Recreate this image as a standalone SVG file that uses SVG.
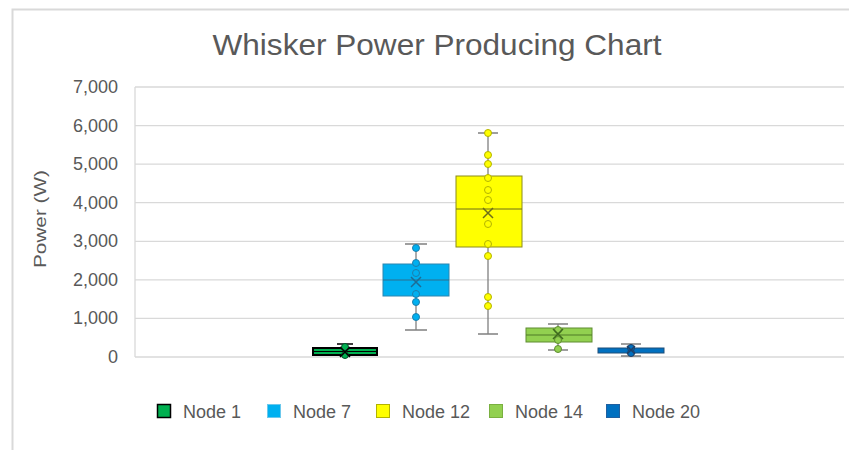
<svg xmlns="http://www.w3.org/2000/svg" width="849" height="450" viewBox="0 0 849 450">
<style>
.t{font-family:"Liberation Sans",Arial,sans-serif;fill:#595959}
.tick{font-size:18px;text-anchor:end}
.leg{font-size:18px}
.grid{stroke:#D9D9D9;stroke-width:1.3;fill:none}
.wh{stroke:#808080;stroke-width:1.3;fill:none}
</style>
<rect x="0" y="0" width="849" height="450" fill="#fff"/>
<path d="M12.5 450V9.5H849" fill="none" stroke="#D9D9D9" stroke-width="2"/>
<text class="t" x="437" y="55" font-size="30" text-anchor="middle" textLength="449" lengthAdjust="spacingAndGlyphs">Whisker Power Producing Chart</text>
<g id="axes">
<path class="grid" d="M135 87H844M135 125.6H844M135 164.1H844M135 202.7H844M135 241.3H844M135 279.9H844M135 318.4H844M135 357H844M135 87V357"/>
<g class="t tick">
<text x="118" y="93">7,000</text>
<text x="118" y="132">6,000</text>
<text x="118" y="170">5,000</text>
<text x="118" y="209">4,000</text>
<text x="118" y="247">3,000</text>
<text x="118" y="286">2,000</text>
<text x="118" y="324">1,000</text>
<text x="118" y="363">0</text>
</g>
<text class="t" font-size="17" transform="translate(46 219) rotate(-90)" text-anchor="middle" textLength="98" lengthAdjust="spacingAndGlyphs">Power (W)</text>
</g>
<g id="connectors"></g>
<g id="node1">
<path d="M345 344V357M337 344H353" stroke="#000" stroke-width="1.5"/>
<rect x="313" y="348" width="64" height="7" fill="#00B050" stroke="#000" stroke-width="2"/>
<path d="M313 351.5H377" stroke="#000" stroke-width="1"/>
<g fill="#00B050" stroke="#00502A" stroke-width="1"><circle cx="345" cy="347" r="3.5"/><circle cx="345" cy="355" r="3.5"/></g>
<path d="M340 347L350 357M350 347L340 357" stroke="#000" stroke-width="1.5"/>
</g>
<g id="node7">
<path class="wh" d="M416 244V264M416 296V330M405 244H427M405 330H427"/>
<rect x="383" y="264" width="66" height="32" fill="#00B0F0" stroke="#2C86B0" stroke-width="1"/>
<path d="M383 280H449" stroke="#2C6E8E" stroke-width="1"/>
<g fill="#00B0F0" stroke="#1D7FAD" stroke-width="1"><circle cx="416" cy="248" r="3.5"/><circle cx="416" cy="263" r="3.5"/><circle cx="416" cy="273" r="3.5"/><circle cx="416" cy="294" r="3.5"/><circle cx="416" cy="302" r="3.5"/><circle cx="416" cy="317" r="3.5"/></g>
<path d="M411 277L421 287M421 277L411 287" stroke="#1D6C94" stroke-width="1.5"/>
</g>
<g id="node12">
<path class="wh" d="M488 133V176M488 247V334M478 133H498M478 334H498"/>
<rect x="456" y="176" width="66" height="71" fill="#FFFF00" stroke="#8C8C1A" stroke-width="1"/>
<path d="M456 209H522" stroke="#6E6E1A" stroke-width="1"/>
<g fill="#FFFF00" stroke="#B3B300" stroke-width="1"><circle cx="488" cy="133" r="3.5"/><circle cx="488" cy="155" r="3.5"/><circle cx="488" cy="164" r="3.5"/><circle cx="488" cy="178" r="3.5"/><circle cx="488" cy="190" r="3.5"/><circle cx="488" cy="200" r="3.5"/><circle cx="488" cy="224" r="3.5"/><circle cx="488" cy="244" r="3.5"/><circle cx="488" cy="256" r="3.5"/><circle cx="488" cy="297" r="3.5"/><circle cx="488" cy="306" r="3.5"/></g>
<path d="M483 208L493 218M493 208L483 218" stroke="#6E6E1A" stroke-width="1.5"/>
</g>
<g id="node14">
<path class="wh" d="M558 324V328M558 342V350M548 324H568M548 350H568"/>
<rect x="526" y="328" width="66" height="14" fill="#92D050" stroke="#5E8C30" stroke-width="1"/>
<path d="M526 335H592" stroke="#4E7A26" stroke-width="1"/>
<g fill="#92D050" stroke="#5E8C30" stroke-width="1"><circle cx="558" cy="330" r="3.5"/><circle cx="558" cy="340" r="3.5"/><circle cx="558" cy="349" r="3.5"/></g>
<path d="M553 329L563 339M563 329L553 339" stroke="#3E6A1E" stroke-width="1.5"/>
</g>
<g id="node20">
<path d="M631 344V356M621 344H641M621 356H641" stroke="#404040" stroke-width="1.2"/>
<rect x="598" y="348" width="66" height="5" fill="#0070C0" stroke="#1F4E79" stroke-width="1"/>
<g fill="#0070C0" stroke="#1F3F66" stroke-width="1"><circle cx="631" cy="348" r="3.5"/><circle cx="631" cy="353" r="3.5"/></g>
<path d="M627 346L635 354M635 346L627 354" stroke="#1F3F66" stroke-width="1.5"/>
</g>
<g id="legend">
<rect x="157.5" y="404.5" width="13" height="13" fill="#00B050" stroke="#000" stroke-width="1.5"/>
<text class="t leg" x="183" y="418">Node 1</text>
<rect x="267.5" y="404.5" width="13" height="13" fill="#00B0F0" stroke="#6CC8EC" stroke-width="1"/>
<text class="t leg" x="293" y="418">Node 7</text>
<rect x="376.5" y="404.5" width="13" height="13" fill="#FFFF00" stroke="#B3B300" stroke-width="1"/>
<text class="t leg" x="402" y="418">Node 12</text>
<rect x="489.5" y="404.5" width="13" height="13" fill="#92D050" stroke="#7AB040" stroke-width="1"/>
<text class="t leg" x="515" y="418">Node 14</text>
<rect x="606.5" y="404.5" width="13" height="13" fill="#0070C0" stroke="#2060A0" stroke-width="1"/>
<text class="t leg" x="632" y="418">Node 20</text>
</g>
</svg>
